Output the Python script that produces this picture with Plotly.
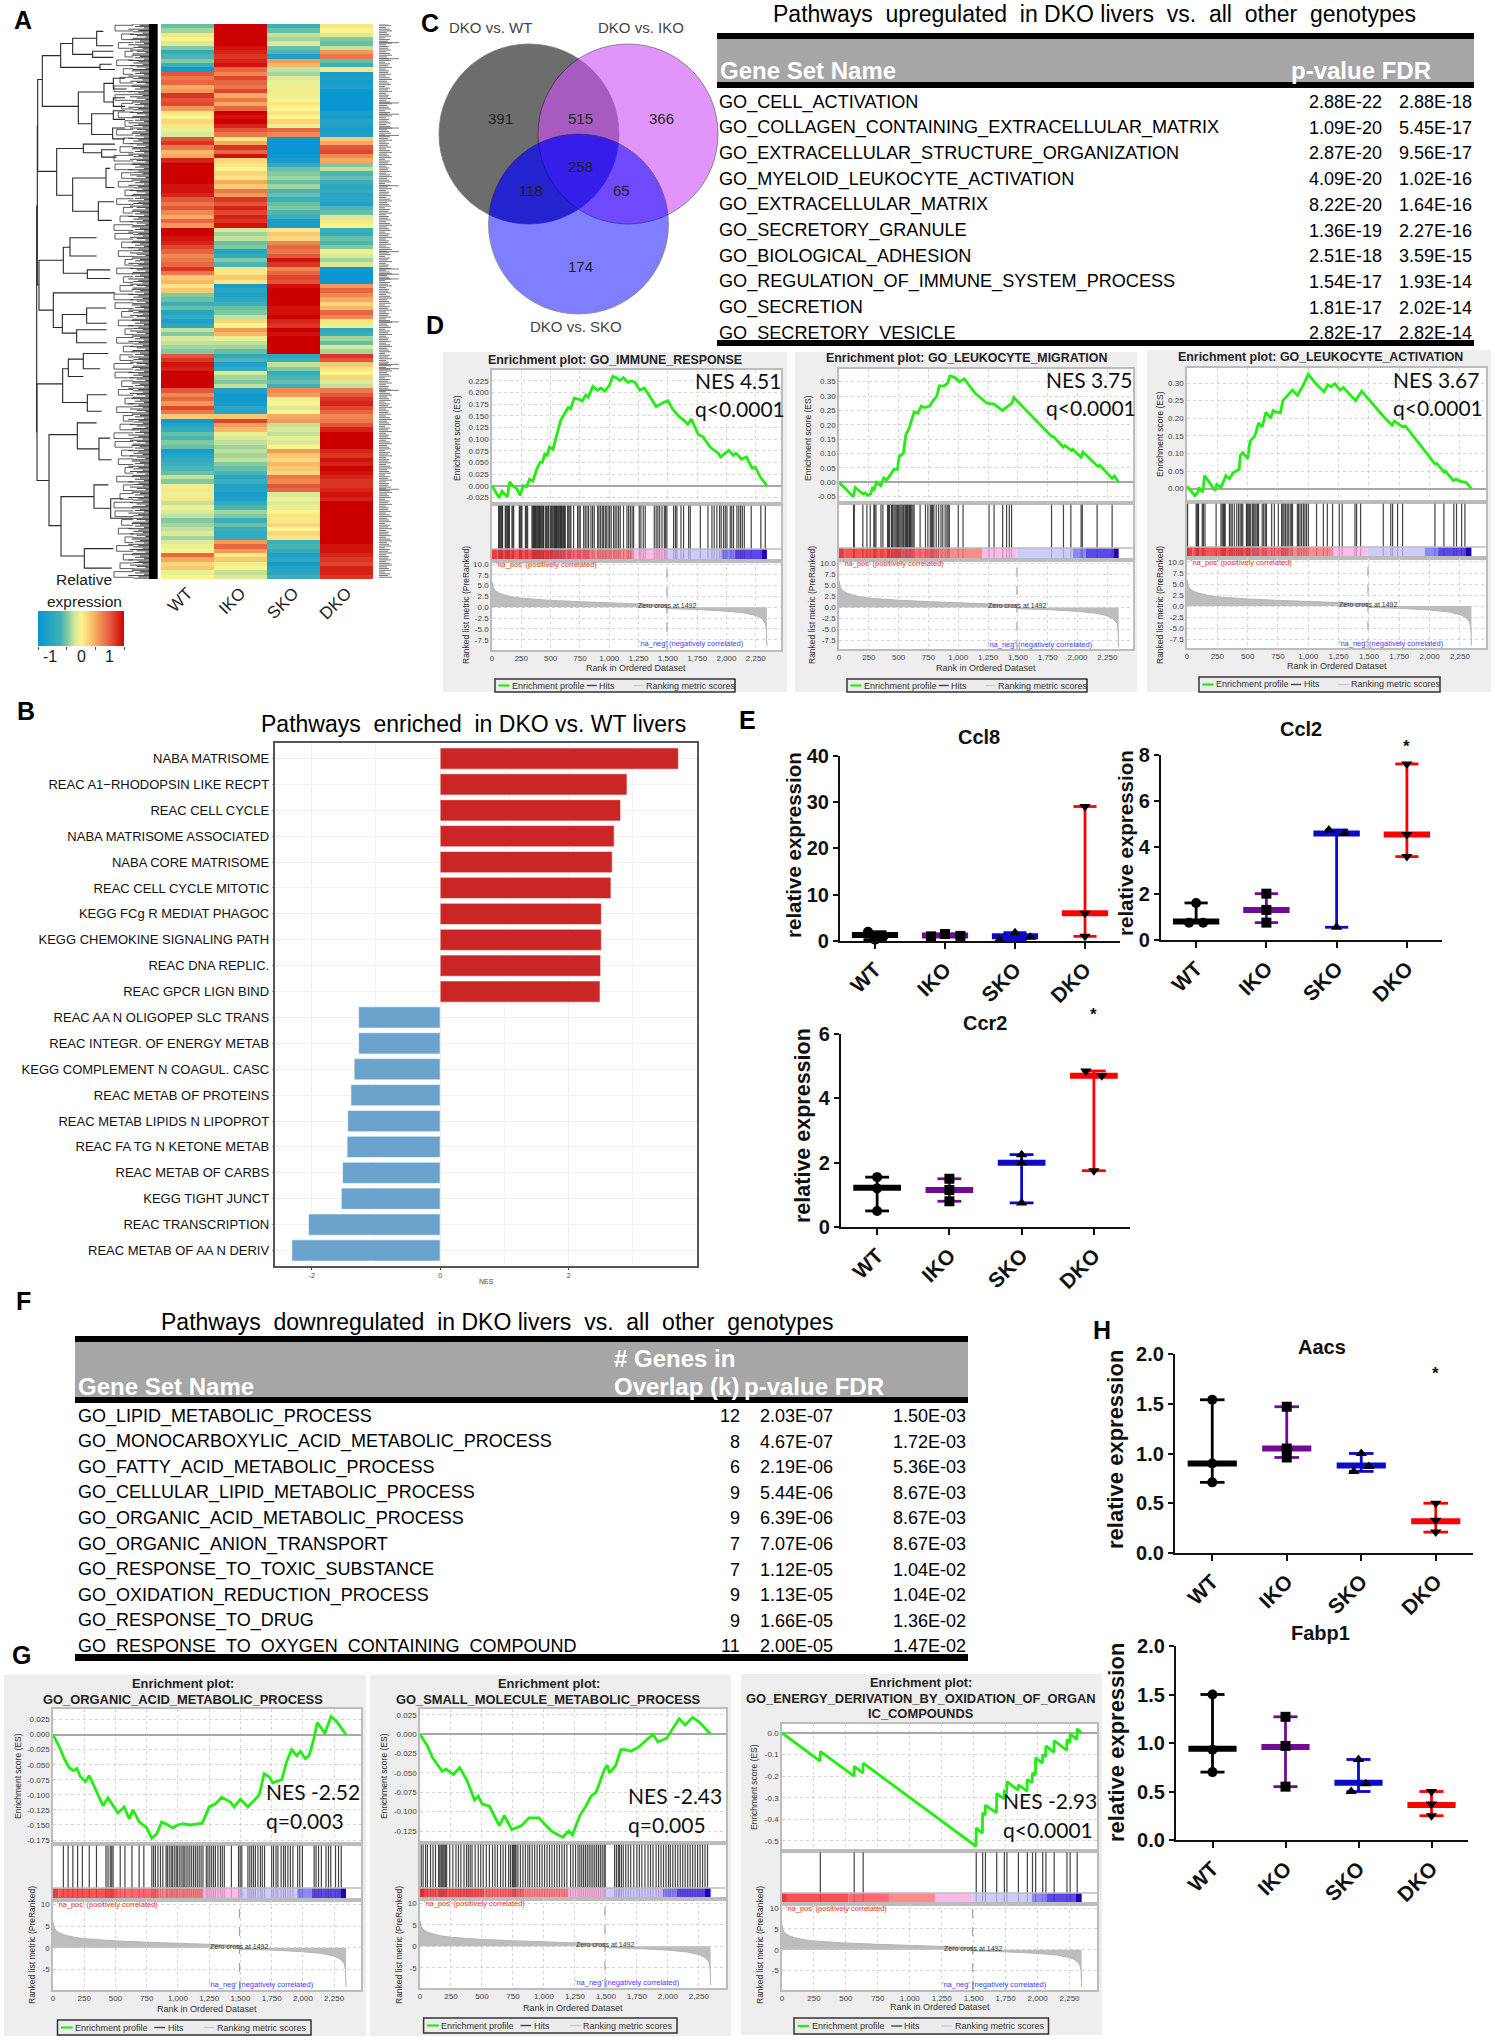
import math

import plotly.graph_objects as go

W, H = 1495, 2040
SANS = "Liberation Sans"
CALIBRI = "Lato"

# ==================================================
# DATA
# ==================================================
genotypes = ["WT", "IKO", "SKO", "DKO"]

# panel A: relative expression, one row per band, columns WT IKO SKO DKO
heat_values = [
    [-0.6, 1.5, -0.8, 0.1], [-0.4, 1.5, -0.6, 0.0], [0.1, 1.5, -0.3, -0.2], [0.0, 1.5, -0.4, -0.5],
    [-0.2, 1.5, -0.2, -0.6], [-0.5, 1.4, -0.6, -0.3], [-0.9, 1.3, -0.7, 0.6], [-0.7, 1.2, -1.2, 0.8],
    [-0.5, 1.3, 0.6, -0.6], [-0.8, 1.4, 0.4, -0.8], [-1.4, 0.9, -0.3, 0.1], [1.0, 0.7, -0.4, -1.3],
    [0.8, 1.1, -0.2, -1.2], [0.9, 0.9, -0.1, -1.3], [0.5, 0.8, -0.1, -1.2], [0.6, 1.1, 0.1, -1.4],
    [1.2, 0.5, -0.1, -1.5], [1.0, 0.8, 0.0, -1.5], [1.1, 0.5, 0.1, -1.5], [0.6, 0.9, 0.0, -1.5],
    [0.1, 1.5, 0.1, -1.2], [0.0, 1.4, 0.0, -1.3], [0.2, 1.5, 0.2, -1.1], [0.1, 1.3, -0.1, -1.2],
    [-0.1, 1.0, 0.9, -1.3], [-0.2, 0.8, 0.7, -1.2], [1.0, 0.1, -1.4, 0.3], [1.2, 0.5, -1.5, 0.5],
    [0.8, 1.2, -1.5, 1.0], [0.4, 0.9, -1.5, 1.1], [0.5, 1.4, -1.4, 0.7], [1.3, 0.2, -1.3, 0.5],
    [1.5, 0.1, -0.9, -0.5], [1.5, 0.0, -0.6, -0.3], [1.5, 0.2, -0.5, -0.7], [1.5, 0.1, -0.4, -0.6],
    [1.5, 0.5, -0.6, -0.8], [1.4, 0.3, -0.4, -1.0], [1.4, 0.8, -0.7, -0.9], [1.3, 0.6, -0.6, -1.1],
    [1.0, 1.2, -0.8, -1.0], [0.8, 1.0, -0.6, -1.2], [1.0, 1.3, -0.5, -0.7], [0.7, 1.1, -0.7, -0.6],
    [0.5, 1.3, -0.8, -0.2], [0.9, 1.2, -1.3, 0.1], [0.6, 1.4, -1.3, 0.0], [1.5, -0.2, 0.1, -0.8],
    [1.5, -0.4, 0.3, -0.9], [1.4, -0.3, 0.2, -0.6], [1.3, -0.6, 0.7, -0.7], [1.1, -0.5, 0.9, -0.5],
    [0.9, -1.1, 0.8, -0.1], [0.7, -0.9, 1.0, -0.2], [0.8, -0.5, 1.4, -0.4], [0.9, -0.7, 1.2, -0.2],
    [1.2, 0.1, 0.7, -1.4], [0.8, 0.1, 0.9, -1.5], [0.3, 0.3, 1.1, -1.5], [0.4, 0.1, 1.0, -1.4],
    [0.1, -1.3, 1.4, 0.6], [0.3, -1.1, 1.5, 0.9], [-0.5, -1.2, 1.5, 0.7], [-0.6, -1.0, 1.5, 0.5],
    [-0.8, -0.8, 1.5, 0.2], [-0.6, -0.6, 1.4, 0.4], [-1.1, -0.5, 1.4, 0.9], [-0.9, -0.3, 1.5, 0.7],
    [-1.2, 0.2, 1.3, 0.1], [-1.0, 0.0, 1.2, -0.1], [-0.3, 0.6, 1.5, -1.0], [-0.5, 0.4, 1.4, -0.8],
    [-0.2, -0.1, 1.5, -0.4], [-0.3, -0.3, 1.5, -0.6], [-0.4, -0.4, 1.5, -0.2], [-0.5, -0.6, 1.5, -0.4],
    [1.0, -0.9, -1.0, 1.2], [1.2, -0.7, -0.8, 1.0], [1.4, -1.2, -0.3, 0.3], [1.3, -0.9, -0.5, 0.1],
    [1.5, -0.2, -0.9, 0.0], [1.5, -0.4, -0.7, 0.2], [1.5, -0.5, -0.6, -0.2], [1.5, -0.3, -0.8, -0.3],
    [1.0, -1.2, 0.7, 0.8], [0.7, -1.4, 0.6, 1.0], [0.9, -1.4, -0.1, 1.2], [0.6, -1.3, 0.0, 1.3],
    [1.1, -1.0, -0.2, 1.1], [0.8, -1.1, 0.0, 0.9], [0.3, 0.3, 0.5, 0.7], [-1.4, 1.1, 0.6, 0.8],
    [-1.1, 0.6, -0.3, 1.0], [-0.9, 0.4, -0.2, 1.3], [-0.6, -0.1, -0.3, 1.5], [-0.7, -0.2, -0.1, 1.5],
    [-0.5, -0.3, -0.2, 1.5], [-0.6, -0.4, 0.0, 1.5], [-1.3, -0.3, 0.6, 1.3], [-1.1, -0.4, 0.3, 1.2],
    [-0.9, -0.3, 0.2, 1.4], [-0.8, -0.5, 0.4, 1.3], [-0.7, -0.6, 0.3, 1.5], [-0.6, -0.7, 0.2, 1.4],
    [-0.3, -1.0, 0.8, 1.3], [-0.5, -0.8, 0.7, 1.2], [-0.1, -1.2, 1.0, 1.2], [0.1, -1.1, 0.9, 1.3],
    [-0.1, -1.3, -0.2, 1.4], [0.1, -1.2, -0.1, 1.3], [-0.3, -0.9, -0.2, 1.5], [-0.1, -0.7, -0.1, 1.5],
    [-0.2, -0.4, 0.0, 1.5], [-0.3, -0.5, 0.1, 1.5], [-0.5, -0.8, 0.1, 1.5], [-0.4, -0.6, 0.2, 1.5],
    [-0.3, -0.8, 0.0, 1.5], [-0.2, -0.9, 0.2, 1.5], [-0.4, -0.9, 0.1, 1.5], [-0.2, 0.6, -0.8, 1.5],
    [-0.1, 0.9, -0.7, 1.4], [0.0, 0.6, -0.9, 1.4], [0.9, 0.1, -1.2, 1.3], [0.5, 0.3, -1.0, 1.2],
    [0.2, -0.1, -1.3, 1.1], [0.3, 0.0, -1.1, 1.3], [-0.1, -0.3, -1.0, 1.3], [0.0, -0.2, -0.8, 1.2],
]
heat_scale = [[0, "#0a96d2"], [0.25, "#3fb0b8"], [0.33, "#7ec8a0"], [0.42, "#d5e89a"], [0.5, "#fbf58c"],
              [0.67, "#f6a95f"], [0.83, "#e4583c"], [1, "#cc0000"]]
colorbar_values = [-1.5, -1.0, -0.5, 0.0, 0.5, 1.0, 1.5]

# dendrogram merges: parent height, upper row, upper child height, lower row, lower child height
dendro_merges = [
    (110, 475, 112, 996, 111), (112, 290, 113, 657, 117), (113, 183, 127, 395, 170), (127, 128, 182, 245, 235),
    (182, 100, 218, 155, 300), (218, 88, 290, 125, 278), (290, 72, 310, 105, 340), (278, 118, 340, 132, 340),
    (300, 148, 335, 160, 345), (235, 212, 312, 285, 275), (312, 192, 340, 235, 340), (275, 262, 340, 310, 338),
    (340, 180, 375, 205, 380), (340, 225, 375, 245, 375), (340, 255, 375, 275, 375), (338, 295, 375, 320, 375),
    (170, 342, 250, 450, 218), (250, 332, 345, 352, 305), (305, 345, 350, 362, 350), (218, 410, 318, 487, 295),
    (318, 388, 330, 432, 343), (295, 465, 342, 508, 335), (117, 600, 190, 715, 160), (190, 570, 210, 630, 262),
    (210, 548, 290, 590, 290), (262, 622, 330, 642, 330), (160, 675, 345, 755, 187), (187, 725, 260, 768, 230),
    (260, 710, 318, 745, 320), (230, 760, 320, 790, 320), (111, 885, 188, 1108, 147), (188, 850, 205, 928, 262),
    (205, 828, 250, 868, 250), (250, 815, 325, 850, 300), (262, 910, 320, 948, 305), (147, 1002, 232, 1212, 183),
    (232, 975, 290, 1035, 297), (297, 1010, 330, 1060, 335), (183, 1145, 282, 1282, 253), (282, 1118, 325, 1172, 332),
    (332, 1150, 370, 1195, 395), (253, 1265, 340, 1310, 335),
]
dendro_tips = [395, 420, 405, 432, 385, 415, 400, 428, 390, 410, 436, 398]
dendro_twigs = [345, 365, 355, 375, 350, 370, 360, 342]
gene_lengths = [9, 12, 7, 11, 13, 8, 10, 12, 6, 11, 9, 13, 7, 10]
gene_long_rows = [98, 135, 237, 263, 295, 312, 428, 580, 620, 632, 643, 742, 840, 850, 900, 1128]

# panel C
venn_counts = ["391", "515", "366", "258", "118", "65", "174"]
up_names = ["GO_CELL_ACTIVATION", "GO_COLLAGEN_CONTAINING_EXTRACELLULAR_MATRIX", "GO_EXTRACELLULAR_STRUCTURE_ORGANIZATION",
            "GO_MYELOID_LEUKOCYTE_ACTIVATION", "GO_EXTRACELLULAR_MATRIX", "GO_SECRETORY_GRANULE", "GO_BIOLOGICAL_ADHESION",
            "GO_REGULATION_OF_IMMUNE_SYSTEM_PROCESS", "GO_SECRETION", "GO_SECRETORY_VESICLE"]
up_pvals = ["2.88E-22", "1.09E-20", "2.87E-20", "4.09E-20", "8.22E-20", "1.36E-19", "2.51E-18", "1.54E-17", "1.81E-17", "2.82E-17"]
up_fdrs = ["2.88E-18", "5.45E-17", "9.56E-17", "1.02E-16", "1.64E-16", "2.27E-16", "3.59E-15", "1.93E-14", "2.02E-14", "2.82E-14"]

# panel B
nes_names = ["NABA MATRISOME", "REAC A1\u2212RHODOPSIN LIKE RECPT", "REAC CELL CYCLE", "NABA MATRISOME ASSOCIATED",
             "NABA CORE MATRISOME", "REAC CELL CYCLE MITOTIC", "KEGG FCg R MEDIAT PHAGOC", "KEGG CHEMOKINE SIGNALING PATH",
             "REAC DNA REPLIC.", "REAC GPCR LIGN BIND", "REAC AA N OLIGOPEP SLC TRANS", "REAC INTEGR. OF ENERGY METAB",
             "KEGG COMPLEMENT N COAGUL. CASC", "REAC METAB OF PROTEINS", "REAC METAB LIPIDS N LIPOPROT",
             "REAC FA TG N KETONE METAB", "REAC METAB OF CARBS", "KEGG TIGHT JUNCT", "REAC TRANSCRIPTION", "REAC METAB OF AA N DERIV"]
nes_values = [3.71, 2.91, 2.81, 2.71, 2.68, 2.66, 2.51, 2.51, 2.50, 2.49,
              -1.27, -1.27, -1.34, -1.39, -1.44, -1.45, -1.52, -1.54, -2.05, -2.31]

# panels E and H: three animals per genotype and the median
ccl8_points = [[2.0, 1.0, 0.3], [1.0, 1.5, 1.1], [0.3, 1.8, 0.8], [29.0, 6.0, 1.0]]
ccl8_medians = [1.3, 1.2, 1.0, 6.0]
ccl2_points = [[1.6, 0.75, 0.75], [2.0, 1.3, 0.75], [4.75, 4.6, 0.55], [7.6, 4.55, 3.6]]
ccl2_medians = [0.8, 1.3, 4.6, 4.55]
ccr2_points = [[1.55, 1.2, 0.5], [1.5, 1.15, 0.8], [2.25, 2.0, 0.75], [4.85, 4.7, 1.75]]
ccr2_medians = [1.22, 1.15, 2.0, 4.7]
aacs_points = [[1.54, 0.9, 0.71], [1.47, 1.05, 0.96], [1.0, 0.87, 0.82], [0.5, 0.33, 0.21]]
aacs_medians = [0.9, 1.05, 0.88, 0.32]
fabp1_points = [[1.5, 0.93, 0.7], [1.27, 0.97, 0.55], [0.83, 0.58, 0.5], [0.5, 0.37, 0.25]]
fabp1_medians = [0.94, 0.96, 0.59, 0.36]
ccl8_offsets = [[-0.1, 0.12, 0.0], [-0.2, 0.0, 0.22], [-0.22, 0.0, 0.22], [0, 0, 0]]
ccl2_offsets = [[0, -0.1, 0.1], [0, 0, 0], [-0.11, 0.11, 0], [0, 0, 0]]
ccr2_offsets = [[0, 0, 0], [0, 0, 0], [0, 0, 0], [-0.11, 0.11, 0]]
aacs_offsets = [[0, 0, 0], [0, 0, 0], [0, 0.1, -0.1], [0, 0, 0]]
fabp1_offsets = [[0, 0, 0], [0, 0, 0], [0, 0.1, -0.1], [0, 0, 0]]
group_colors = ["#000000", "#730a96", "#0a0ac8", "#ff0000"]
group_symbols = ["circle", "square", "triangle-up", "triangle-down"]

# panel F
down_names = ["GO_LIPID_METABOLIC_PROCESS", "GO_MONOCARBOXYLIC_ACID_METABOLIC_PROCESS", "GO_FATTY_ACID_METABOLIC_PROCESS",
              "GO_CELLULAR_LIPID_METABOLIC_PROCESS", "GO_ORGANIC_ACID_METABOLIC_PROCESS", "GO_ORGANIC_ANION_TRANSPORT",
              "GO_RESPONSE_TO_TOXIC_SUBSTANCE", "GO_OXIDATION_REDUCTION_PROCESS", "GO_RESPONSE_TO_DRUG",
              "GO_RESPONSE_TO_OXYGEN_CONTAINING_COMPOUND"]
down_k = ["12", "8", "6", "9", "9", "7", "7", "9", "9", "11"]
down_pvals = ["2.03E-07", "4.67E-07", "2.19E-06", "5.44E-06", "6.39E-06", "7.07E-06", "1.12E-05", "1.13E-05", "1.66E-05", "2.00E-05"]
down_fdrs = ["1.50E-03", "1.72E-03", "5.36E-03", "8.67E-03", "8.67E-03", "8.67E-03", "1.04E-02", "1.04E-02", "1.36E-02", "1.47E-02"]

# GSEA panels: the ranked list metric and colour strip are the same in all six
rank_ticks = [0, 250, 500, 750, 1000, 1250, 1500, 1750, 2000, 2250]
rank_tick_text = ["0", "250", "500", "750", "1,000", "1,250", "1,500", "1,750", "2,000", "2,250"]
metric_rank = [0, 8, 25, 60, 100, 175, 250, 400, 500, 750, 1000, 1200, 1491, 1492, 1750, 2000, 2150, 2250, 2300, 2330, 2340, 2345]
metric_value = [6.0, 4.8, 3.9, 3.3, 2.9, 2.4, 2.1, 1.8, 1.6, 1.3, 1.0, 0.85, 0.55, -0.3, -0.5, -0.9, -1.3, -1.9, -2.6, -3.6, -5.0, -9.0]
strip_edges = [0, 45, 520, 840, 1200, 1490, 1960, 2070, 2300, 2345]
strip_colors = ["#f03a3a", "#ff5050", "#ff6a72", "#ff8a8a", "#ffbbe8", "#ccccff", "#8888ff", "#5a48ee", "#2200bb"]

d1_rank = [0, 30, 60, 85, 110, 130, 150, 180, 210, 240, 265, 295, 320, 350, 380, 410, 430, 450, 470, 490, 520, 560, 585, 620, 650, 670, 700, 750, 770, 800, 820, 860, 900, 930, 960, 1000, 1030, 1060, 1090, 1120, 1160, 1190, 1220, 1260, 1300, 1350, 1400, 1450, 1500, 1540, 1590, 1640, 1670, 1700, 1760, 1800, 1860, 1930, 1950, 2000, 2020, 2060, 2080, 2130, 2170, 2220, 2245, 2290, 2345]
d1_es = [0, -0.012, -0.026, -0.012, -0.018, -0.024, 0.008, -0.001, -0.006, -0.021, 0.0, -0.002, 0.014, 0.01, 0.035, 0.05, 0.05, 0.068, 0.065, 0.083, 0.078, 0.115, 0.14, 0.155, 0.168, 0.165, 0.188, 0.185, 0.182, 0.195, 0.19, 0.213, 0.205, 0.21, 0.203, 0.215, 0.235, 0.232, 0.226, 0.232, 0.222, 0.225, 0.222, 0.205, 0.21, 0.19, 0.17, 0.177, 0.183, 0.165, 0.15, 0.14, 0.132, 0.143, 0.11, 0.105, 0.083, 0.07, 0.062, 0.072, 0.076, 0.065, 0.07, 0.057, 0.062, 0.037, 0.04, 0.018, 0]
d1_hits = [57, 62, 70, 78, 85, 90, 113, 120, 128, 135, 142, 148, 170, 178, 185, 233, 240, 248, 255, 285, 295, 304, 341, 348, 355, 362, 370, 376, 383, 390, 398, 405, 412, 420, 428, 435, 440, 455, 465, 475, 483, 497, 505, 512, 520, 528, 535, 542, 550, 556, 563, 570, 578, 585, 592, 600, 610, 618, 625, 645, 655, 665, 673, 696, 730, 742, 753, 782, 795, 810, 824, 844, 858, 872, 901, 912, 925, 940, 950, 965, 975, 990, 1003, 1017, 1037, 1050, 1065, 1080, 1094, 1122, 1151, 1165, 1180, 1195, 1208, 1256, 1270, 1290, 1307, 1384, 1400, 1415, 1430, 1450, 1470, 1480, 1492, 1549, 1565, 1577, 1612, 1634, 1677, 1691, 1777, 1842, 1876, 1895, 1918, 1941, 1955, 1975, 1990, 2004, 2032, 2045, 2060, 2089, 2105, 2120, 2135, 2152, 2211, 2293, 2331]

d2_rank = [0, 50, 120, 135, 170, 200, 220, 240, 265, 280, 295, 315, 350, 375, 400, 430, 460, 490, 505, 540, 560, 590, 630, 660, 690, 720, 760, 790, 820, 840, 880, 910, 930, 970, 1010, 1050, 1140, 1240, 1300, 1370, 1420, 1450, 1465, 1780, 1800, 1880, 1895, 1950, 1960, 2030, 2045, 2170, 2185, 2290, 2310, 2345]
d2_es = [0, -0.02, -0.05, -0.018, -0.03, -0.04, -0.037, -0.045, -0.04, -0.02, -0.025, 0, -0.012, 0.015, 0.008, 0.025, 0.045, 0.045, 0.09, 0.1, 0.165, 0.19, 0.245, 0.24, 0.265, 0.26, 0.265, 0.285, 0.3, 0.335, 0.335, 0.345, 0.37, 0.365, 0.35, 0.36, 0.31, 0.275, 0.272, 0.25, 0.265, 0.275, 0.295, 0.16, 0.158, 0.122, 0.128, 0.11, 0.115, 0.087, 0.105, 0.055, 0.06, 0.013, 0.022, 0]
d2_hits = [123, 128, 200, 234, 262, 292, 300, 310, 352, 368, 407, 415, 424, 440, 448, 460, 470, 480, 490, 500, 510, 520, 530, 540, 552, 560, 566, 575, 585, 592, 600, 610, 620, 630, 680, 725, 745, 765, 775, 785, 795, 815, 835, 855, 870, 890, 905, 915, 925, 1000, 1040, 1258, 1300, 1372, 1405, 1428, 1447, 1782, 1882, 1944, 2030, 2040, 2164, 2290]

d3_rank = [0, 30, 65, 90, 95, 130, 145, 190, 230, 245, 280, 320, 350, 380, 400, 430, 440, 460, 500, 520, 560, 590, 620, 650, 690, 710, 740, 770, 790, 830, 870, 910, 960, 1000, 1070, 1130, 1160, 1190, 1220, 1260, 1290, 1390, 1440, 1620, 1690, 1710, 1780, 1800, 2045, 2060, 2120, 2130, 2195, 2220, 2260, 2300, 2345]
d3_es = [0.007, -0.005, -0.02, -0.01, 0.003, -0.01, 0.037, 0.015, -0.005, 0.012, 0.003, 0.037, 0.028, 0.045, 0.05, 0.055, 0.095, 0.102, 0.085, 0.135, 0.15, 0.187, 0.175, 0.217, 0.2, 0.222, 0.217, 0.215, 0.25, 0.265, 0.28, 0.265, 0.295, 0.325, 0.295, 0.275, 0.295, 0.29, 0.298, 0.28, 0.287, 0.25, 0.277, 0.205, 0.18, 0.192, 0.175, 0.178, 0.07, 0.072, 0.047, 0.05, 0.023, 0.027, 0.02, 0.018, 0]
d3_hits = [5, 75, 83, 90, 95, 126, 135, 148, 240, 280, 290, 300, 308, 315, 350, 362, 373, 390, 410, 425, 438, 450, 460, 490, 497, 505, 515, 525, 540, 550, 560, 570, 582, 590, 620, 632, 645, 655, 698, 720, 753, 780, 790, 800, 812, 825, 835, 850, 860, 870, 910, 920, 932, 945, 960, 972, 985, 1000, 1068, 1124, 1157, 1200, 1255, 1280, 1385, 1398, 1431, 1618, 1680, 1695, 1736, 1777, 2044, 2118, 2200, 2222, 2264, 2291]

g1_rank = [0, 50, 90, 130, 165, 190, 220, 260, 290, 350, 400, 440, 470, 520, 570, 610, 640, 690, 750, 790, 830, 870, 920, 960, 1000, 1040, 1100, 1170, 1195, 1250, 1300, 1350, 1420, 1450, 1500, 1560, 1610, 1650, 1690, 1730, 1760, 1830, 1870, 1910, 1950, 1980, 2020, 2050, 2090, 2115, 2150, 2175, 2225, 2270, 2345]
g1_es = [0, -0.02, -0.04, -0.055, -0.06, -0.056, -0.07, -0.078, -0.068, -0.095, -0.118, -0.105, -0.115, -0.13, -0.12, -0.14, -0.125, -0.145, -0.155, -0.172, -0.165, -0.145, -0.15, -0.155, -0.15, -0.148, -0.15, -0.148, -0.147, -0.12, -0.115, -0.104, -0.112, -0.12, -0.107, -0.12, -0.108, -0.1, -0.065, -0.07, -0.08, -0.075, -0.045, -0.025, -0.035, -0.028, -0.04, -0.035, -0.005, 0.02, 0.01, 0.002, 0.03, 0.022, 0]
g1_hits = [83, 121, 159, 197, 235, 290, 348, 424, 440, 458, 470, 481, 538, 576, 632, 689, 727, 791, 805, 820, 840, 860, 879, 905, 915, 930, 945, 955, 970, 985, 995, 1010, 1025, 1040, 1050, 1065, 1080, 1095, 1110, 1125, 1140, 1155, 1170, 1185, 1200, 1227, 1240, 1255, 1270, 1285, 1300, 1320, 1340, 1355, 1371, 1428, 1485, 1498, 1511, 1560, 1575, 1590, 1605, 1620, 1640, 1660, 1675, 1693, 1750, 1765, 1785, 1800, 1826, 1845, 1860, 1880, 1900, 1920, 1958, 1975, 1996, 2090, 2105, 2125, 2148, 2185, 2205, 2223, 2261, 2285, 2307]

g2_rank = [0, 60, 100, 180, 210, 270, 320, 380, 440, 470, 500, 560, 640, 680, 740, 820, 880, 960, 1000, 1060, 1150, 1200, 1230, 1290, 1330, 1380, 1420, 1490, 1510, 1530, 1580, 1620, 1660, 1700, 1760, 1880, 1920, 1990, 2090, 2140, 2200, 2260, 2345]
g2_es = [0, -0.015, -0.03, -0.048, -0.045, -0.052, -0.043, -0.06, -0.085, -0.08, -0.09, -0.093, -0.118, -0.105, -0.123, -0.118, -0.108, -0.108, -0.115, -0.125, -0.133, -0.125, -0.13, -0.105, -0.095, -0.08, -0.075, -0.045, -0.04, -0.05, -0.04, -0.02, -0.02, -0.022, -0.017, 0, -0.01, -0.005, 0.02, 0.012, 0.022, 0.015, 0]
g2_hits = [10, 25, 45, 60, 85, 105, 125, 150, 160, 170, 178, 186, 195, 205, 215, 240, 265, 290, 310, 330, 355, 375, 390, 405, 420, 445, 470, 490, 510, 535, 560, 585, 605, 625, 650, 670, 690, 715, 730, 745, 752, 760, 768, 775, 790, 810, 830, 850, 870, 885, 905, 925, 945, 965, 985, 1005, 1025, 1045, 1065, 1085, 1105, 1125, 1145, 1165, 1185, 1215, 1235, 1255, 1275, 1290, 1305, 1320, 1335, 1350, 1365, 1380, 1395, 1410, 1425, 1440, 1455, 1470, 1485, 1495, 1570, 1585, 1600, 1610, 1625, 1640, 1660, 1680, 1700, 1725, 1750, 1770, 1790, 1815, 1840, 1860, 1880, 1905, 1925, 1945, 1965, 1985, 2005, 2020, 2040, 2060, 2080, 2100, 2120, 2140, 2160, 2180, 2200, 2220, 2240, 2260, 2280, 2300, 2320]

g3_rank = [0, 298, 300, 563, 565, 633, 635, 1518, 1520, 1568, 1570, 1590, 1592, 1678, 1680, 1738, 1740, 1758, 1760, 1848, 1850, 1918, 1920, 1958, 1960, 1983, 1985, 2038, 2040, 2063, 2065, 2128, 2130, 2228, 2230, 2253, 2255, 2308, 2310, 2345]
g3_es = [0, -0.13, -0.085, -0.2, -0.155, -0.185, -0.14, -0.525, -0.44, -0.465, -0.37, -0.38, -0.335, -0.37, -0.28, -0.305, -0.27, -0.275, -0.225, -0.265, -0.24, -0.27, -0.215, -0.23, -0.185, -0.195, -0.115, -0.14, -0.1, -0.11, -0.06, -0.09, -0.035, -0.08, -0.03, -0.045, -0.005, -0.03, 0.02, 0]
g3_hits = [300, 565, 635, 1520, 1570, 1592, 1680, 1740, 1760, 1850, 1920, 1960, 1985, 2040, 2065, 2130, 2230, 2255, 2310]

# ==================================================
# HELPERS
# ==================================================
fig = go.Figure()
shapes = []
notes = []
axis_count = [0]


def fx(px):
    return px / W


def fy(px):
    return 1 - px / H


def new_axes(x0, x1, y_top, y_bottom, xaxis=None, yaxis=None):
    axis_count[0] += 1
    n = axis_count[0]
    xa = dict(domain=[fx(x0), fx(x1)], anchor=f"y{n}", showgrid=False, zeroline=False, showticklabels=False, ticks="", automargin=False)
    ya = dict(domain=[fy(y_bottom), fy(y_top)], anchor=f"x{n}", showgrid=False, zeroline=False, showticklabels=False, ticks="", automargin=False)
    xa.update(xaxis or {})
    ya.update(yaxis or {})
    fig.update_layout({f"xaxis{n}": xa, f"yaxis{n}": ya})
    return f"x{n}", f"y{n}"


def note(x, y, text, size=12, color="#000000", bold=False, family=SANS, xanchor="center", angle=0):
    notes.append(dict(x=fx(x), y=fy(y), xref="paper", yref="paper", text=text, showarrow=False, textangle=angle,
                      xanchor=xanchor, yanchor="middle", borderpad=0,
                      font=dict(size=size, color=color, family=family, weight="bold" if bold else "normal")))


def rect(x0, y0, x1, y1, fill, line=None, width=1, layer="below"):
    shapes.append(dict(type="rect", xref="paper", yref="paper", x0=fx(x0), x1=fx(x1), y0=fy(y1), y1=fy(y0),
                       fillcolor=fill, line=dict(color=line or fill, width=width if line else 0), layer=layer))


def data_note(xa, ya, x, y, text, size, color, xanchor="center"):
    notes.append(dict(x=x, y=y, xref=xa, yref=ya, text=text, showarrow=False, xanchor=xanchor, yanchor="middle",
                      font=dict(size=size, color=color, family=SANS)))


# ==================================================
# PANEL A: HEATMAP WITH DENDROGRAM
# ==================================================
xa, ya = new_axes(161, 373, 24, 579,
                  xaxis=dict(range=[-0.5, 3.5], tickvals=[0, 1, 2, 3], ticktext=genotypes, showticklabels=True, tickangle=-45,
                             tickfont=dict(size=17, family=SANS, color="#222222")),
                  yaxis=dict(range=[len(heat_values) - 0.5, -0.5]))
fig.add_trace(go.Heatmap(z=heat_values, x=[0, 1, 2, 3], y=list(range(len(heat_values))), colorscale=heat_scale,
                         zmin=-1.5, zmax=1.5, showscale=False, xaxis=xa, yaxis=ya))

xa, ya = new_axes(0, 158, 24, 579, xaxis=dict(range=[0, 474]), yaxis=dict(range=[1335, 55]))
tree_x, tree_y = [], []
for h, y_a, h_a, y_b, h_b in dendro_merges:
    tree_x += [h_a, h, h, h_b, None]
    tree_y += [y_a, y_a, y_b, y_b, None]
fig.add_trace(go.Scatter(x=tree_x, y=tree_y, mode="lines", line=dict(color="#2a2a2a", width=1.1), xaxis=xa, yaxis=ya))

twig_x, twig_y, tip_x, tip_y = [], [], [], []
for i, row in enumerate(range(55, 1335, 20)):
    start = dendro_twigs[i % len(dendro_twigs)]
    twig_x += [start, start, None, start, 400, None, start, 400, None]
    twig_y += [row + 3, row + 16, None, row + 3, row + 3, None, row + 16, row + 16, None]
for i, row in enumerate(range(55, 1335, 3)):
    tip_x += [dendro_tips[i % len(dendro_tips)], 447, None]
    tip_y += [row, row, None]
fig.add_trace(go.Scatter(x=tip_x, y=tip_y, mode="lines", line=dict(color="#444444", width=1), xaxis=xa, yaxis=ya))
fig.add_trace(go.Scatter(x=twig_x, y=twig_y, mode="lines", line=dict(color="#333333", width=0.8), xaxis=xa, yaxis=ya))
fig.add_trace(go.Scatter(x=[447, 473, 473, 447, 447], y=[55, 55, 1335, 1335, 55], mode="lines", fill="toself",
                         fillcolor="#000000", line=dict(color="#000000", width=0), xaxis=xa, yaxis=ya))

xa, ya = new_axes(379, 400, 24, 579, xaxis=dict(range=[0, 21]), yaxis=dict(range=[1335, 55]))
gene_x, gene_y = [], []
for i, row in enumerate(range(55, 1335, 4)):
    gene_x += [0, gene_lengths[i % len(gene_lengths)], None]
    gene_y += [row, row, None]
for row in gene_long_rows:
    gene_x += [0, 20, None]
    gene_y += [row, row, None]
fig.add_trace(go.Scatter(x=gene_x, y=gene_y, mode="lines", line=dict(color="#555555", width=0.8), xaxis=xa, yaxis=ya))

xa, ya = new_axes(38, 124, 611, 646,
                  xaxis=dict(range=[-1.5, 1.5], tickvals=[-1.5, -0.5, 0.5, 1.5], ticks="outside", ticklen=3, tickcolor="#555555"),
                  yaxis=dict(range=[-0.5, 0.5]))
fig.add_trace(go.Heatmap(z=[colorbar_values], x=colorbar_values, y=[0], colorscale=heat_scale, zmin=-1.5, zmax=1.5,
                         zsmooth="best", showscale=False, xaxis=xa, yaxis=ya))
note(84, 579, "Relative", 15.5, "#222222")
note(84, 601, "expression", 15.5, "#222222")
for label, x in zip(["-1", "0", "1"], [50, 81, 109]):
    note(x, 657, label, 16, "#222222")

# ==================================================
# PANEL C: VENN AND TABLE
# ==================================================
VENN_R = 90
venn_circles = [(529, 134, "#000000", 0.57), (628, 134, "#ce50f8", 0.6), (578.5, 224, "#0000ff", 0.5)]
for cx, cy, color, alpha in venn_circles:
    shapes.append(dict(type="circle", xref="paper", yref="paper", x0=fx(cx - VENN_R), x1=fx(cx + VENN_R), y0=fy(cy + VENN_R), y1=fy(cy - VENN_R),
                       fillcolor=color, opacity=alpha, line=dict(color="#111111", width=0.8), layer="above"))


def lens_path(a, b):
    # outline of the overlap of two equal circles, used to deepen the blue where the gray and blue sets meet
    pts = []
    for c, other in ((a, b), (b, a)):
        for deg in range(0, 360, 3):
            x = c[0] + VENN_R * math.cos(math.radians(deg))
            y = c[1] + VENN_R * math.sin(math.radians(deg))
            if math.hypot(x - other[0], y - other[1]) <= VENN_R:
                pts.append((x, y))
    mx = sum(p[0] for p in pts) / len(pts)
    my = sum(p[1] for p in pts) / len(pts)
    pts.sort(key=lambda p: math.atan2(p[1] - my, p[0] - mx))
    return "M " + " L ".join(f"{fx(x):.5f},{fy(y):.5f}" for x, y in pts) + " Z"


shapes.append(dict(type="path", xref="paper", yref="paper", path=lens_path(venn_circles[0], venn_circles[2]),
                   fillcolor="#0000ff", opacity=0.35, line=dict(width=0), layer="above"))

for label, x, y in zip(venn_counts, [500, 580, 661, 580, 531, 621, 580], [118, 118, 118, 166, 190, 190, 267]):
    note(x, y, label, 15, "#222222")
note(490, 28, "DKO vs. WT", 15, "#444444")
note(641, 28, "DKO vs. IKO", 15, "#444444")
note(576, 327, "DKO vs. SKO", 15, "#444444")

note(1094, 14, "Pathways  upregulated  in DKO livers  vs.  all  other  genotypes", 23)
rect(717, 33, 1474, 39, "#000000")
rect(717, 39, 1474, 82, "#a6a6a6")
rect(717, 82, 1474, 88, "#000000")
rect(717, 340, 1474, 346, "#000000")
note(719, 71, "Gene Set Name", 24, "#ffffff", True, xanchor="left")
note(1290, 71, "p-value FDR", 24, "#ffffff", True, xanchor="left")
for i, (name, p, q) in enumerate(zip(up_names, up_pvals, up_fdrs)):
    y = 102 + i * 25.7
    note(718, y, name, 18.1, xanchor="left")
    note(1383, y, p, 18, xanchor="right")
    note(1473, y, q, 18, xanchor="right")

# ==================================================
# PANEL B: NES BARS
# ==================================================
xa, ya = new_axes(274.5, 697, 743, 1266,
                  xaxis=dict(range=[-2.58, 4.0], tickvals=[-2, 0, 2], ticktext=["-2", "0", "2"], showticklabels=True, ticks="outside",
                             ticklen=2, tickfont=dict(size=7, family=SANS, color="#444444"), showgrid=True, gridcolor="#efefef",
                             minor=dict(tickvals=[-1, 1, 3], showgrid=True, gridcolor="#f4f4f4"),
                             showline=True, linecolor="#555555", linewidth=1.5, mirror=True),
                  yaxis=dict(range=[19.6, -0.6], tickvals=list(range(20)), ticktext=nes_names, showticklabels=True, ticks="outside",
                             ticklen=1, tickcolor="#aaaaaa", tickfont=dict(size=13, family=SANS, color="#111111"),
                             showgrid=True, gridcolor="#f0f0f0", showline=True, linecolor="#555555", linewidth=1.5, mirror=True))
fig.add_trace(go.Bar(x=nes_values, y=list(range(20)), orientation="h", width=0.82,
                     marker=dict(color=["#cb2626" if v > 0 else "#6ba3cc" for v in nes_values],
                                 line=dict(color="#ffffff", width=0.6)), xaxis=xa, yaxis=ya))
note(473, 724, "Pathways  enriched  in DKO vs. WT livers", 23)
note(486, 1281, "NES", 7, "#444444")


# ==================================================
# PANELS E AND H: MEDIAN / RANGE DOT PLOTS
# ==================================================
def dot_plot(box, y_max, y_ticks, points, medians, offsets, tick_format="{:g}"):
    xa, ya = new_axes(box[0], box[1], box[2], box[3],
                      xaxis=dict(range=[-0.5, 3.5], tickvals=[0, 1, 2, 3], ticktext=genotypes, showticklabels=True, tickangle=-45,
                                 ticks="outside", ticklen=6, tickwidth=2, tickcolor="#111111", showline=True, linecolor="#111111",
                                 linewidth=2.2, tickfont=dict(size=21, family=SANS, color="#111111", weight="bold")),
                      yaxis=dict(range=[0, y_max], tickvals=y_ticks, ticktext=[tick_format.format(t) for t in y_ticks],
                                 showticklabels=True, ticks="outside", ticklen=5, tickwidth=2, tickcolor="#111111", showline=True,
                                 linecolor="#111111", linewidth=2.2, tickfont=dict(size=20, family=SANS, color="#111111", weight="bold")))
    for i, vals in enumerate(points):
        color = group_colors[i]
        top, low = max(vals), min(vals)
        fig.add_trace(go.Scatter(x=[i, i, None, i - 0.165, i + 0.165, None, i - 0.165, i + 0.165],
                                 y=[top, low, None, top, top, None, low, low], mode="lines", cliponaxis=False,
                                 line=dict(color=color, width=2.8), xaxis=xa, yaxis=ya))
        fig.add_trace(go.Scatter(x=[i - 0.33, i + 0.33], y=[medians[i], medians[i]], mode="lines", cliponaxis=False,
                                 line=dict(color=color, width=6), xaxis=xa, yaxis=ya))
        fig.add_trace(go.Scatter(x=[i + o for o in offsets[i]], y=vals, mode="markers", cliponaxis=False,
                                 marker=dict(symbol=group_symbols[i], size=10, color="#000000"), xaxis=xa, yaxis=ya))


dot_plot((840, 1120, 755.5, 941), 40, [0, 10, 20, 30, 40], ccl8_points, ccl8_medians, ccl8_offsets)
dot_plot((1161, 1442, 754.7, 940), 8, [0, 2, 4, 6, 8], ccl2_points, ccl2_medians, ccl2_offsets)
dot_plot((841, 1130, 1034, 1227), 6, [0, 2, 4, 6], ccr2_points, ccr2_medians, ccr2_offsets)
dot_plot((1175, 1473, 1354, 1553), 2, [0, 0.5, 1, 1.5, 2], aacs_points, aacs_medians, aacs_offsets, "{:.1f}")
dot_plot((1176, 1468, 1646, 1840), 2, [0, 0.5, 1, 1.5, 2], fabp1_points, fabp1_medians, fabp1_offsets, "{:.1f}")

for title, x, y in [("Ccl8", 979, 737), ("Ccl2", 1301, 729), ("Ccr2", 985, 1023), ("Aacs", 1322, 1347), ("Fabp1", 1320, 1633)]:
    note(x, y, title, 20, "#111111", True)
for x, y, size in [(793, 845, 20.5), (1125, 843, 20.5), (803, 1126, 21.5), (1115, 1450, 22), (1116, 1743, 22)]:
    note(x, y, "relative expression", size, "#111111", True, angle=-90)
for x, y in [(1406, 746), (1093, 1014), (1435, 1373)]:
    note(x, y, "*", 17, "#111111", True)

# ==================================================
# PANEL F: TABLE
# ==================================================
note(497, 1322, "Pathways  downregulated  in DKO livers  vs.  all  other  genotypes", 23)
rect(75, 1336, 968, 1342, "#000000")
rect(75, 1342, 968, 1397, "#a6a6a6")
rect(75, 1397, 968, 1403, "#000000")
rect(75, 1654, 968, 1661, "#000000")
note(77, 1386, "Gene Set Name", 24, "#ffffff", True, xanchor="left")
note(613, 1358, "# Genes in", 24, "#ffffff", True, xanchor="left")
note(613, 1386, "Overlap (k)", 24, "#ffffff", True, xanchor="left")
note(743, 1386, "p-value FDR", 24, "#ffffff", True, xanchor="left")
for i, (name, k, p, q) in enumerate(zip(down_names, down_k, down_pvals, down_fdrs)):
    y = 1416 + i * 25.6
    note(77, y, name, 18, xanchor="left")
    note(741, y, k, 18, xanchor="right")
    note(834, y, p, 18, xanchor="right")
    note(967, y, q, 18, xanchor="right")


# ==================================================
# PANELS D AND G: GSEA ENRICHMENT PLOTS
# ==================================================
def gsea_panel(p):
    bg, es, legend = p["bg"], p["plot"], p["legend"]
    rect(bg[0], bg[1], bg[2], bg[3], "#eeeeee")
    rect(es[0], es[2], es[1], es[5], "#ffffff")
    frame = dict(showline=True, linecolor="#bcbcbc", linewidth=1.5, mirror=True)
    grid = dict(showgrid=True, gridcolor="#d4d4d4", griddash="dot", gridwidth=1)
    tick_font = dict(size=8, family=SANS, color="#444444")

    # enrichment score
    xa, ya = new_axes(es[0], es[1], es[2], es[3],
                      xaxis=dict(range=[0, 2465], tickvals=rank_ticks, **frame, **grid),
                      yaxis=dict(range=p["es_range"], tickvals=p["es_ticks"], ticktext=[p["es_fmt"].format(t) for t in p["es_ticks"]],
                                 showticklabels=True, tickfont=tick_font, zeroline=True, zerolinecolor="#a8a8a8", zerolinewidth=1.5,
                                 **frame, **grid))
    fig.add_trace(go.Scatter(x=p["rank"], y=p["es"], mode="lines", line=dict(color="#22ee11", width=2.8), xaxis=xa, yaxis=ya))

    # hits and colour strip
    strip_share = (es[4] - p["hits_bottom"]) / (es[4] - es[3])
    xa, ya = new_axes(es[0], es[1], es[3], es[4], xaxis=dict(range=[0, 2465], **frame), yaxis=dict(range=[0, 1], **frame))
    fig.add_trace(go.Bar(x=[b - a for a, b in zip(strip_edges[:-1], strip_edges[1:])], base=strip_edges[:-1],
                         y=[strip_share / 2] * len(strip_colors), width=strip_share, orientation="h",
                         marker=dict(color=strip_colors, line=dict(width=0)), xaxis=xa, yaxis=ya))
    hit_x, hit_y, dark_x, dark_y = [], [], [], []
    for r in p["hits"]:
        hit_x += [r, r, None]
        hit_y += [strip_share, 0.97, None]
        dark_x += [r, r, None]
        dark_y += [0, strip_share, None]
    fig.add_trace(go.Scatter(x=hit_x, y=hit_y, mode="lines", line=dict(color="rgba(20,20,20,0.8)", width=1.2), xaxis=xa, yaxis=ya))
    fig.add_trace(go.Scatter(x=dark_x, y=dark_y, mode="lines", line=dict(color="rgba(60,0,30,0.22)", width=1.2), xaxis=xa, yaxis=ya))
    fig.add_trace(go.Scatter(x=[0, 2465], y=[strip_share, strip_share], mode="lines", line=dict(color="#bcbcbc", width=1.5), xaxis=xa, yaxis=ya))

    # ranked list metric
    xa, ya = new_axes(es[0], es[1], es[4], es[5],
                      xaxis=dict(range=[0, 2465], tickvals=rank_ticks, ticktext=rank_tick_text, showticklabels=True, tickfont=tick_font, **frame, **grid),
                      yaxis=dict(range=p["rank_range"], tickvals=p["rank_ticks"], ticktext=[p["rank_fmt"].format(t) for t in p["rank_ticks"]],
                                 showticklabels=True, tickfont=tick_font, **frame, **grid))
    fig.add_trace(go.Scatter(x=metric_rank, y=metric_value, mode="lines", fill="tozeroy", fillcolor="#bdbdbd",
                             line=dict(color="#b5b5b5", width=1), xaxis=xa, yaxis=ya))
    fig.add_trace(go.Scatter(x=[1492, 1492], y=p["rank_range"], mode="lines", line=dict(color="#999999", width=1, dash="dash"), xaxis=xa, yaxis=ya))
    data_note(xa, ya, 15, 9.9, "'na_pos' (positively correlated)", 7.5, "#e8302a", "left")
    data_note(xa, ya, 1492, 0.35, "Zero cross at 1492", 7, "#333333")
    data_note(xa, ya, 1236, -8.4, "'na_neg' (negatively correlated)", 7.5, "#3b3bff", "left")

    # labels
    for line, y in zip(p["title"], p["title_y"]):
        note(p["title_x"], y, line, p["title_size"], "#222222", True)
    note(p["es_label"][0], p["es_label"][1], "Enrichment score (ES)", 8.5, "#333333", angle=-90)
    note(p["rank_label"][0], p["rank_label"][1], "Ranked list metric (PreRanked)", 8.5, "#333333", angle=-90)
    note(p["x_label"][0], p["x_label"][1], "Rank in Ordered Dataset", 9, "#333333")
    note(p["nes"][0], p["nes"][1], p["nes_text"], p["nes_size"], "#111111", family=CALIBRI, xanchor="left")
    note(p["nes"][0], p["nes"][2], p["q_text"], p["nes_size"], "#111111", family=CALIBRI, xanchor="left")

    # legend box
    lx0, lx1, ly0, ly1 = legend
    span = lx1 - lx0
    my = (ly0 + ly1) / 2
    rect(lx0, ly0, lx1, ly1, "#ececec", "#333333", 1.5)
    for f0, f1, color, width in [(0.014, 0.06, "#22ee11", 2.2), (0.382, 0.424, "#444444", 1.4), (0.578, 0.62, "#cccccc", 1.4)]:
        shapes.append(dict(type="line", xref="paper", yref="paper", x0=fx(lx0 + f0 * span), x1=fx(lx0 + f1 * span), y0=fy(my), y1=fy(my),
                           line=dict(color=color, width=width), layer="below"))
    note(lx0 + 0.065 * span, my, "Enrichment profile", 9, "#333333", xanchor="left")
    note(lx0 + 0.43 * span, my, "Hits", 9, "#333333", xanchor="left")
    note(lx0 + 0.627 * span, my, "Ranking metric scores", 9, "#333333", xanchor="left")


d_rank_ticks = [10, 7.5, 5, 2.5, 0, -2.5, -5, -7.5]
g_rank_ticks = [10, 5, 0, -5]

gsea_panel(dict(bg=(443, 352, 787, 692), plot=(492, 781, 370, 504, 561, 650), hits_bottom=549, legend=(495, 735, 679, 692),
                title=["Enrichment plot: GO_IMMUNE_RESPONSE"], title_x=615, title_y=[360], title_size=12.4,
                rank=d1_rank, es=d1_es, hits=d1_hits, es_range=[-0.0393, 0.2486],
                es_ticks=[-0.025, 0, 0.025, 0.05, 0.075, 0.1, 0.125, 0.15, 0.175, 0.2, 0.225], es_fmt="{:.3f}",
                rank_range=[-9.86, 10.7], rank_ticks=d_rank_ticks, rank_fmt="{:.1f}",
                es_label=(457, 438), rank_label=(466, 605), x_label=(636, 668),
                nes=(694, 380, 409), nes_text="NES 4.51", q_text="q<0.0001", nes_size=21))
gsea_panel(dict(bg=(795, 352, 1137, 692), plot=(839, 1133, 369, 503, 560, 649), hits_bottom=548, legend=(847, 1087, 679, 692),
                title=["Enrichment plot: GO_LEUKOCYTE_MIGRATION"], title_x=967, title_y=[358], title_size=12.4,
                rank=d2_rank, es=d2_es, hits=d2_hits, es_range=[-0.072, 0.394],
                es_ticks=[-0.05, 0, 0.05, 0.1, 0.15, 0.2, 0.25, 0.3, 0.35], es_fmt="{:.2f}",
                rank_range=[-9.4, 10.7], rank_ticks=d_rank_ticks, rank_fmt="{:.1f}",
                es_label=(808, 438), rank_label=(812, 605), x_label=(986, 668),
                nes=(1045, 379, 408), nes_text="NES 3.75", q_text="q<0.0001", nes_size=21))
gsea_panel(dict(bg=(1147, 350, 1491, 692), plot=(1187, 1486, 368, 502, 558, 648), hits_bottom=547, legend=(1199, 1440, 677, 692),
                title=["Enrichment plot: GO_LEUKOCYTE_ACTIVATION"], title_x=1320, title_y=[357], title_size=12.4,
                rank=d3_rank, es=d3_es, hits=d3_hits, es_range=[-0.0378, 0.3426],
                es_ticks=[0, 0.05, 0.1, 0.15, 0.2, 0.25, 0.3], es_fmt="{:.2f}",
                rank_range=[-9.5, 10.9], rank_ticks=d_rank_ticks, rank_fmt="{:.1f}",
                es_label=(1160, 434), rank_label=(1160, 605), x_label=(1337, 666),
                nes=(1392, 379, 408), nes_text="NES 3.67", q_text="q<0.0001", nes_size=21))
gsea_panel(dict(bg=(4, 1675, 366, 2036), plot=(53, 361, 1709, 1844, 1900, 1990), hits_bottom=1888, legend=(57.5, 311, 2020, 2035),
                title=["Enrichment plot:", "GO_ORGANIC_ACID_METABOLIC_PROCESS"], title_x=182.5, title_y=[1683, 1699], title_size=12.9,
                rank=g1_rank, es=g1_es, hits=g1_hits, es_range=[-0.1816, 0.0425],
                es_ticks=[-0.175, -0.15, -0.125, -0.1, -0.075, -0.05, -0.025, 0, 0.025], es_fmt="{:.3f}",
                rank_range=[-9.7, 11], rank_ticks=g_rank_ticks, rank_fmt="{:.0f}",
                es_label=(18, 1776), rank_label=(32, 1945), x_label=(207, 2009),
                nes=(265, 1791, 1820), nes_text="NES -2.52", q_text="q=0.003", nes_size=21))
gsea_panel(dict(bg=(370, 1675, 731, 2036), plot=(420, 725.5, 1709, 1843, 1899, 1988), hits_bottom=1888, legend=(423.6, 677, 2018, 2033),
                title=["Enrichment plot:", "GO_SMALL_MOLECULE_METABOLIC_PROCESS"], title_x=548.6, title_y=[1683, 1699], title_size=12.9,
                rank=g2_rank, es=g2_es, hits=g2_hits, es_range=[-0.1405, 0.0327],
                es_ticks=[-0.125, -0.1, -0.075, -0.05, -0.025, 0, 0.025], es_fmt="{:.3f}",
                rank_range=[-9.7, 11], rank_ticks=g_rank_ticks, rank_fmt="{:.0f}",
                es_label=(384, 1776), rank_label=(399, 1945), x_label=(573, 2008),
                nes=(627, 1795, 1824), nes_text="NES -2.43", q_text="q=0.005", nes_size=21))
gsea_panel(dict(bg=(741, 1674, 1102, 2035), plot=(782, 1097, 1724, 1851, 1904, 1990), hits_bottom=1893, legend=(794, 1048.5, 2018, 2034),
                title=["Enrichment plot:", "GO_ENERGY_DERIVATION_BY_OXIDATION_OF_ORGAN", "IC_COMPOUNDS"], title_x=921, title_y=[1682, 1698, 1713], title_size=12.9,
                rank=g3_rank, es=g3_es, hits=g3_hits, es_range=[-0.547, 0.0417],
                es_ticks=[-0.5, -0.4, -0.3, -0.2, -0.1, 0], es_fmt="{:.1f}",
                rank_range=[-9.7, 11], rank_ticks=g_rank_ticks, rank_fmt="{:.0f}",
                es_label=(754, 1787), rank_label=(760, 1945), x_label=(940, 2007),
                nes=(1002, 1800, 1829), nes_text="NES -2.93", q_text="q<0.0001", nes_size=21))

# panel letters
for letter, x, y in [("A", 23, 20), ("C", 430, 23), ("D", 435, 325), ("B", 26, 711), ("E", 748, 720),
                     ("F", 24, 1301), ("G", 21, 1655), ("H", 1102, 1330)]:
    note(x, y, letter, 25, "#000000", True)

fig.update_layout(width=W, height=H, margin=dict(l=0, r=0, t=0, b=0), autosize=False, showlegend=False, barmode="overlay",
                  paper_bgcolor="#ffffff", plot_bgcolor="rgba(0,0,0,0)", shapes=shapes, annotations=notes)

fig.write_html("out.html", config={"displayModeBar": False}, post_script="document.body.style.margin='0';")
